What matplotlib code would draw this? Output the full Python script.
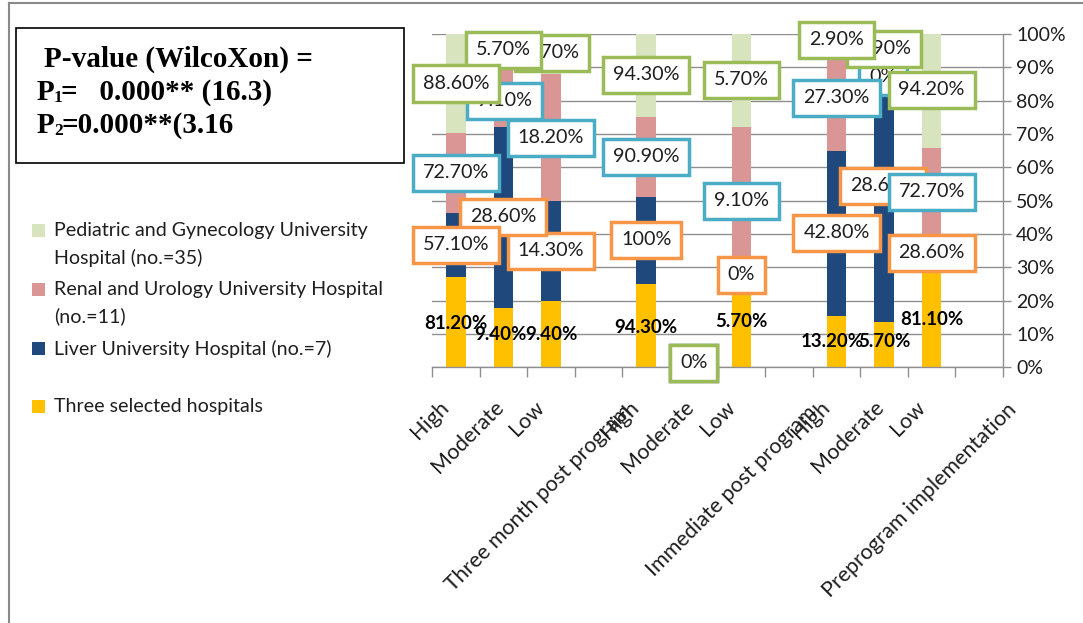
import matplotlib
matplotlib.use("Agg")
import matplotlib.pyplot as plt
import matplotlib.transforms as mtransforms
from matplotlib.patches import Rectangle
from matplotlib.lines import Line2D
import numpy as np

plt.rcParams["font.family"] = ["Lato", "DejaVu Sans"]

W, H, DPI = 1083, 623, 100
nan = np.nan

# ---------------------------------------------------------------- data
categories = ["High", "Moderate", "Low", "Three month post program",
              "High", "Moderate", "Low", "Immediate post program",
              "High", "Moderate", "Low", "Preprogram implementation"]

series_names = ["Three selected hospitals",
                "Liver University Hospital (no.=7)",
                "Renal and Urology University Hospital\n(no.=11)",
                "Pediatric and Gynecology University\nHospital (no.=35)"]

three_selected = [81.2, 9.4, 9.4, nan, 94.3, 0.0, 5.7, nan, 13.2, 5.7, 81.1, nan]
liver          = [57.1, 28.6, 14.3, nan, 100.0, 0.0, 0.0, nan, 42.8, 28.6, 28.6, nan]
renal          = [72.7, 9.1, 18.2, nan, 90.9, 0.0, 9.1, nan, 27.3, 0.0, 72.7, nan]
pediatric      = [88.6, 5.7, 5.7, nan, 94.3, 0.0, 5.7, nan, 2.9, 7.9, 94.2, nan]

pvalue_title = "P-value (WilcoXon) ="
pvalue_lines = [("P", "1", "=   0.000** (16.3)"),
                ("P", "2", "=0.000**(3.16")]

# ---------------------------------------------------------------- styles
fill_colors = ["#FFC000", "#1F497D", "#D99694", "#D7E4BD"]
box_colors = [None, "#F79646", "#4BACC6", "#9BBB59"]
grid_gray = "#8f8f8f"
text_col = "#1e1e1e"

# label placement (height in % of the axis, horizontal nudge in px)
label_y = [
    [13.0, 9.7, 9.7, None, 11.8, 1.3, 13.6, None, 7.6, 7.6, 14.2, None],
    [36.7, 45.1, 34.9, None, 38.2, 1.3, 27.7, None, 40.3, 54.4, 34.3, None],
    [58.3, 79.9, 68.8, None, 63.1, 1.3, 49.9, None, 80.8, 87.1, 52.6, None],
    [85.1, 95.2, 94.3, None, 87.7, 1.3, 86.2, None, 98.2, 95.5, 83.2, None],
]
label_dx = [
    [0, -3, 0, 0, 0, 0, 0, 0, -4, 0, 0, 0],
    [0, 0, 0, 0, 0, 0, 0, 0, 0, -1, 0, 0],
    [0, 1, 0, 0, 0, 0, 0, 0, 0, -1, 0, 0],
    [0, 0, 1, 0, 0, 0, 0, 0, 0, 0, 0, 0],
]
tick_dx = [-10, -3, -9.5, 30, -10, -3, -9.5, 25, -10, -3, -9.5, 34]
tick_dy = [37, 37, 37, 41, 37, 37, 37, 42, 37, 37, 37, 39]


def fmt(v):
    if abs(v - round(v)) < 1e-9:
        return f"{int(round(v))}%"
    return f"{v:.2f}%"


def fx(px):
    return px / W


def fy(py):
    return 1 - py / H


fig = plt.figure(figsize=(W / DPI, H / DPI), dpi=DPI)
fig.patch.set_facecolor("white")

ax = fig.add_axes([fx(432), fy(367.3), (1003 - 432) / W, 333.3 / H])

values = np.array([three_selected, liver, renal, pediatric], dtype=float)
x = np.arange(len(categories))
totals = np.nansum(values, axis=0)
shares = np.where(totals > 0, values / np.where(totals > 0, totals, 1) * 100, 0.0)
shares = np.where(np.isnan(values), np.nan, shares)

bottom = np.zeros(len(categories))
for s in range(4):
    h = np.nan_to_num(shares[s])
    mask = ~np.isnan(values[s])
    ax.bar(x[mask], h[mask], bottom=bottom[mask], width=0.41,
           color=fill_colors[s], linewidth=0, zorder=2)
    bottom = bottom + h

ax.set_xlim(-0.5, len(categories) - 0.5)
ax.set_ylim(0, 100)
ax.set_xticks(np.arange(-0.5, len(categories), 1.0))
ax.set_xticklabels([])
ax.tick_params(axis="x", length=7.2, width=1, color=grid_gray, direction="out")
ax.yaxis.tick_right()
ax.set_yticks(np.arange(0, 101, 10))
ax.set_yticklabels([f"{t}%" for t in range(0, 101, 10)])
ax.tick_params(axis="y", length=5.5, width=1, color=grid_gray, pad=4,
               labelsize=14, labelcolor=text_col)
ax.grid(axis="y", color=grid_gray, linewidth=1)
ax.set_axisbelow(True)
for side in ("top", "left"):
    ax.spines[side].set_visible(False)
for side in ("bottom", "right"):
    ax.spines[side].set_color(grid_gray)
    ax.spines[side].set_linewidth(1)

# category labels, rotated
base = mtransforms.blended_transform_factory(ax.transData, ax.transAxes)
for i, name in enumerate(categories):
    tr = base + mtransforms.ScaledTranslation(tick_dx[i] / DPI, -tick_dy[i] / DPI,
                                              fig.dpi_scale_trans)
    ax.text(i, 0, name, transform=tr, rotation=45, rotation_mode="anchor",
            ha="right", va="center", fontsize=15.5, color=text_col, clip_on=False)

# data labels
for s in range(4):
    for i in reversed(range(len(categories))):
        if np.isnan(values[s][i]) or label_y[s][i] is None:
            continue
        txt = fmt(values[s][i])
        if box_colors[s] is None:
            ax.annotate(txt, xy=(i, label_y[s][i]), xytext=(label_dx[s][i] * 0.72, 0),
                        textcoords="offset points", ha="center", va="center",
                        fontsize=13.5, fontweight="bold", color="black",
                        zorder=5, annotation_clip=False)
        else:
            ax.annotate(txt, xy=(i, label_y[s][i]), xytext=(label_dx[s][i] * 0.72, 0),
                        textcoords="offset points", ha="center", va="center",
                        fontsize=14.2, color=text_col, zorder=5, annotation_clip=False,
                        bbox=dict(boxstyle="square,pad=0.5", fc="white",
                                  ec=box_colors[s], lw=2.5))

# legend on the left
legend_rows = [230.5, 289.5, 348.5, 406.5]
for s, y0 in zip([3, 2, 1, 0], legend_rows):
    fig.patches.append(Rectangle((fx(32), fy(y0 + 6.7)), 13.4 / W, 13.4 / H,
                                 transform=fig.transFigure, facecolor=fill_colors[s],
                                 edgecolor="none"))
    for k, line in enumerate(series_names[s].split("\n")):
        fig.text(fx(54), fy(y0 + 27 * k), line, ha="left", va="center",
                 fontsize=14.1, color=text_col)

# P-value box
fig.patches.append(Rectangle((fx(16), fy(163)), (404 - 16) / W, (163 - 28) / H,
                             transform=fig.transFigure, facecolor="white",
                             edgecolor="black", linewidth=1.2))
serif = dict(family="Liberation Serif", weight="bold", color="black")
fig.text(fx(44), fy(67), pvalue_title, ha="left", va="baseline", fontsize=21, **serif)
for k, (head, sub, rest) in enumerate(pvalue_lines):
    yb = 100 + 33 * k
    fig.text(fx(37), fy(yb), head, ha="left", va="baseline", fontsize=21, **serif)
    fig.text(fx(54), fy(yb + 2), sub, ha="left", va="baseline", fontsize=12.5, **serif)
    fig.text(fx(61), fy(yb), rest, ha="left", va="baseline", fontsize=21, **serif)

# outer frame
fig.lines.append(Line2D([fx(9), fx(9)], [fy(623), fy(3)], transform=fig.transFigure,
                        color="#8a8a8a", linewidth=1.5))
fig.lines.append(Line2D([fx(9), fx(1083)], [fy(3), fy(3)], transform=fig.transFigure,
                        color="#8a8a8a", linewidth=1.5))

fig.savefig("out.png", dpi=DPI, facecolor="white")
